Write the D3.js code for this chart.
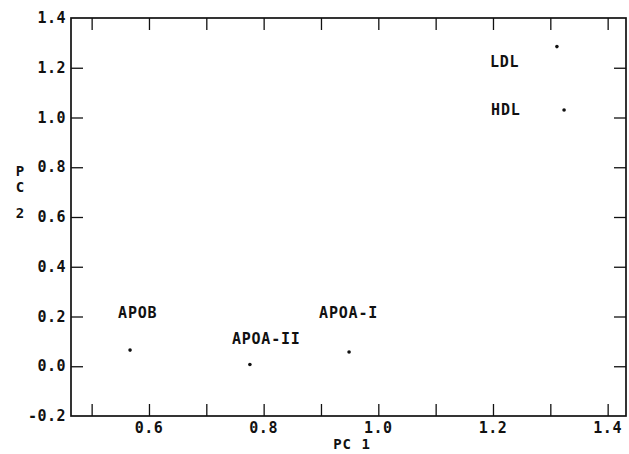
<!DOCTYPE html>
<html>
<head>
<meta charset="utf-8">
<script src="https://cdn.jsdelivr.net/npm/d3@7"></script>
<style>
  html, body { margin: 0; padding: 0; background: #fff; }
  svg { display: block; }
  text { font-family: "DejaVu Sans Mono", "Liberation Mono", monospace; fill: #111; font-weight: bold; }
</style>
</head>
<body>
<svg id="chart" width="629" height="454"></svg>
<script>
// ---- data ----
const names = ["APOB", "APOA-II", "APOA-I", "LDL", "HDL"];
const pc1 = [0.567, 0.776, 0.949, 1.3115, 1.324];
const pc2 = [0.065, 0.007, 0.057, 1.285, 1.03];
const xMinorTicks = [0.5, 0.6, 0.7, 0.8, 0.9, 1.0, 1.1, 1.2, 1.3, 1.4];
const xTickLabels = [0.6, 0.8, 1.0, 1.2, 1.4];
const yTicks = [-0.2, 0.0, 0.2, 0.4, 0.6, 0.8, 1.0, 1.2, 1.4];

(function () {
// ---- layout ----
const svg = d3.select("#chart");
const pL = 71, pR = 626, pT = 18, pB = 416;
const x = d3.scaleLinear().domain([0.464, 1.432]).range([pL, pR]);
const y = d3.scaleLinear().domain([-0.2, 1.4]).range([pB, pT]);
const tickLen = 12;

// ticks (inward)
const g = svg.append("g");
g.append("g").attr("transform", `translate(0,${pB})`)
  .call(d3.axisTop(x).tickValues(xMinorTicks).tickSize(tickLen).tickFormat(""))
  .call(a => a.select(".domain").remove());
g.append("g").attr("transform", `translate(0,${pT})`)
  .call(d3.axisBottom(x).tickValues(xMinorTicks).tickSize(tickLen).tickFormat(""))
  .call(a => a.select(".domain").remove());
g.append("g").attr("transform", `translate(${pL},0)`)
  .call(d3.axisRight(y).tickValues(yTicks.slice(1, -1)).tickSize(tickLen).tickFormat(""))
  .call(a => a.select(".domain").remove());
g.append("g").attr("transform", `translate(${pR},0)`)
  .call(d3.axisLeft(y).tickValues(yTicks.slice(1, -1)).tickSize(tickLen).tickFormat(""))
  .call(a => a.select(".domain").remove());
g.selectAll(".tick line").attr("stroke", "#111").attr("stroke-width", 1.3);

// frame
svg.append("rect")
  .attr("x", pL).attr("y", pT)
  .attr("width", pR - pL).attr("height", pB - pT)
  .attr("fill", "none").attr("stroke", "#111").attr("stroke-width", 1.7);

// tick labels
svg.append("g").selectAll("text").data(xTickLabels).join("text")
  .attr("x", d => x(d)).attr("y", 428)
  .attr("text-anchor", "middle").attr("dominant-baseline", "central")
  .style("font-size", "15px").style("letter-spacing", "0.5px")
  .text(d => d3.format(".1f")(d));
svg.append("g").selectAll("text").data(yTicks).join("text")
  .attr("x", pL - 5).attr("y", d => y(d))
  .attr("text-anchor", "end").attr("dominant-baseline", "central")
  .style("font-size", "15px").style("letter-spacing", "0.5px")
  .text(d => d3.format(".1f")(d).replace("\u2212", "-"));

// axis titles
svg.append("text").attr("x", 352).attr("y", 444)
  .attr("text-anchor", "middle").attr("dominant-baseline", "central")
  .style("font-size", "14px").style("letter-spacing", "1px").text("PC 1");
const yTitle = [["P", 171], ["C", 187], ["2", 213]];
svg.append("g").selectAll("text").data(yTitle).join("text")
  .attr("x", 20).attr("y", d => d[1])
  .attr("text-anchor", "middle").attr("dominant-baseline", "central")
  .style("font-size", "14px").text(d => d[0]);

// points
const pts = names.map((n, i) => ({ n, x: pc1[i], y: pc2[i] }));
svg.append("g").selectAll("circle").data(pts).join("circle")
  .attr("cx", d => x(d.x)).attr("cy", d => y(d.y)).attr("r", 1.8).attr("fill", "#111");

// labels (pixel offsets from the point)
const off = { "APOB": [-12, -37], "APOA-II": [-18, -26], "APOA-I": [-30, -39], "LDL": [-67, 15], "HDL": [-73, 0] };
svg.append("g").selectAll("text").data(pts).join("text")
  .attr("x", d => x(d.x) + off[d.n][0]).attr("y", d => y(d.y) + off[d.n][1])
  .attr("dominant-baseline", "central")
  .style("font-size", "15px").style("letter-spacing", "0.8px")
  .text(d => d.n);
})();
</script>
</body>
</html>
